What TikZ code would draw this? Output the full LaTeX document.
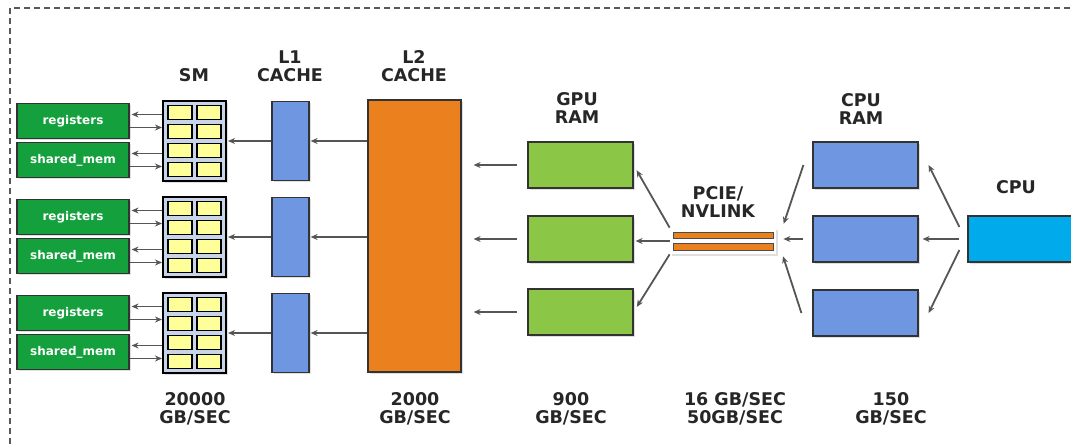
\documentclass[tikz,border=0pt]{standalone}
\usepackage{fontspec}
\setmainfont{DejaVu Sans}
\usetikzlibrary{arrows.meta,shadows}
\definecolor{regGreen}{RGB}{20,160,60}
\definecolor{smBlue}{RGB}{200,212,232}
\definecolor{cellYellow}{RGB}{255,255,153}
\definecolor{cacheBlue}{RGB}{110,150,225}
\definecolor{cacheOrange}{RGB}{235,128,30}
\definecolor{ramGreen}{RGB}{140,198,70}
\definecolor{cpuCyan}{RGB}{0,170,235}
\definecolor{arrowGray}{RGB}{85,85,85}

\begin{document}
\begin{tikzpicture}[
        x=1pt, y=-1pt,
        thick,
        font=\bfseries\fontsize{17.5}{18.5}\selectfont
    ]
    \tikzset{
        box/.style = {rectangle, draw=black!80, line width=1.2pt, inner sep=0pt,
            drop shadow={shadow xshift=1.5pt, shadow yshift=-1.5pt, opacity=0.25}},
        membox/.style = {box, fill=regGreen, minimum width=112pt, minimum height=35pt,
            text=white, font=\bfseries\fontsize{12}{12}\selectfont},
        smbox/.style = {box, fill=smBlue, draw=black, line width=2pt, minimum width=63pt, minimum height=80pt},
        smcell/.style = {fill=cellYellow, draw=black, line width=1.2pt},
        lonebox/.style = {box, fill=cacheBlue, minimum width=37pt, minimum height=79pt},
        grambox/.style = {box, fill=ramGreen, minimum width=105pt, minimum height=46pt},
        crambox/.style = {box, fill=cacheBlue, minimum width=105pt, minimum height=46pt},
        strip/.style = {fill=cacheOrange, draw=black!70, line width=0.8pt},
        heading/.style = {align=center, text=black!85},
        flow/.style = {draw=arrowGray, line width=1.8pt, -{Stealth[length=7pt,width=6pt]}}
    }
    \useasboundingbox (0,0) rectangle (1071,444);
    \draw[black!65, line width=1.4pt, dash pattern=on 6pt off 4pt] (10,444) -- (10,8) -- (1071,8);

    \foreach \n/\y in {1/141, 2/237, 3/333} {
        \node[smbox] (sm\n) at (194.5,\y) {};
        \foreach \dx in {-14.5,14.5}
            \foreach \dy in {-28.5,-9.5,9.5,28.5}
                \draw[smcell] ([shift={(\dx-12,\dy-7)}]sm\n.center) rectangle ++(24,14);
        \node[membox] (reg\n) at (73,\y-20) {registers};
        \node[membox] (shm\n) at (73,\y+19) {shared\_mem};
        \node[lonebox] (lone\n) at (290.5,\y) {};
    }
    \node[box, fill=cacheOrange, minimum width=93pt, minimum height=272pt] (ltwo) at (414.5,236) {};
    \foreach \n/\y in {1/165, 2/239, 3/312}
        \node[grambox] (gram\n) at (580.5,\y) {};
    \node[rectangle, fill=white, inner sep=0pt, minimum width=106pt, minimum height=26pt,
        drop shadow={shadow xshift=1.5pt, shadow yshift=-1.5pt, opacity=0.25}] (pcie) at (723,241) {};
    \draw[strip] ([shift={(-50,-9)}]pcie.center) rectangle ++(100,6);
    \draw[strip] ([shift={(-50,2)}]pcie.center) rectangle ++(100,7);
    \foreach \n/\y in {1/165, 2/239, 3/313}
        \node[crambox] (cram\n) at (865.5,\y) {};
    \node[box, fill=cpuCyan, minimum width=112pt, minimum height=46pt] (cpu) at (1024,239) {};

    \foreach \n in {1,2,3} {
        \draw[flow, shorten >=2pt] ([yshift=6.5pt]reg\n.east -| sm\n.west) -- ([yshift=6.5pt]reg\n.east);
        \draw[flow] ([yshift=-6.5pt]reg\n.east) -- ([yshift=-6.5pt]reg\n.east -| sm\n.west);
        \draw[flow, shorten >=2pt] ([yshift=6.5pt]shm\n.east -| sm\n.west) -- ([yshift=6.5pt]shm\n.east);
        \draw[flow] ([yshift=-6.5pt]shm\n.east) -- ([yshift=-6.5pt]shm\n.east -| sm\n.west);
        \draw[flow, shorten >=1pt] (lone\n.west) -- (sm\n.east);
        \draw[flow, shorten >=1pt] (ltwo.west |- lone\n) -- (lone\n.east);
        \draw[flow, shorten <=10pt, shorten >=12pt] (gram\n.west) -- (ltwo.east |- gram\n);
    }
    \draw[flow, shorten >=6pt] (pcie.north west) -- (gram1.east);
    \draw[flow, shorten >=2pt] (pcie.west) -- (pcie.west -| gram2.east);
    \draw[flow, shorten >=6pt] (pcie.south west) -- (gram3.east);
    \draw[flow, shorten >=4pt] ([xshift=-9pt]cram1.west) -- ([xshift=6pt]pcie.north east);
    \draw[flow] ([xshift=-9pt]cram2.west) -- ([xshift=7pt]cram2.west -| pcie.east);
    \draw[flow, shorten >=2pt] ([xshift=-11pt]cram3.west) -- ([xshift=6pt]pcie.south east);
    \draw[flow] ([shift={(-8pt,12pt)}]cpu.west) -- ([xshift=10pt]cram1.east);
    \draw[flow] ([xshift=-8pt]cpu.west) -- ([xshift=4pt]cram2.east);
    \draw[flow] ([shift={(-8pt,-11pt)}]cpu.west) -- ([xshift=10pt]cram3.east);

    \node[heading] (smlab) at (194,75) {SM};
    \node[heading] (lonelab) at (290,66) {L1\\CACHE};
    \node[heading] (ltwolab) at (414,66) {L2\\CACHE};
    \node[heading] (gramlab) at (577,108) {GPU\\RAM};
    \node[heading] (pcielab) at (718,202) {PCIE/\\NVLINK};
    \node[heading] (cramlab) at (861,109) {CPU\\RAM};
    \node[heading] (cpulab) at (1016,187) {CPU};
    \node[heading] (smrate) at (195,409) {20000\\GB/SEC};
    \node[heading] (ltworate) at (415,409) {2000\\GB/SEC};
    \node[heading] (gramrate) at (571,409) {900\\GB/SEC};
    \node[heading] (pcierate) at (735,409) {16 GB/SEC\\50GB/SEC};
    \node[heading] (cramrate) at (891,409) {150\\GB/SEC};
\end{tikzpicture}
\end{document}
